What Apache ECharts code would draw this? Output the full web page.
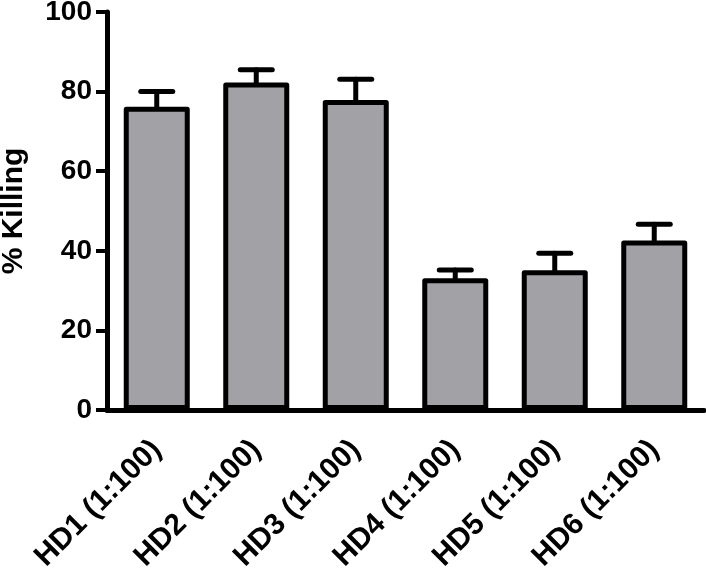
<!DOCTYPE html>
<html>
<head>
<meta charset="utf-8">
<script src="https://cdn.jsdelivr.net/npm/echarts@6/dist/echarts.min.js"></script>
<style>
  html, body { margin: 0; padding: 0; background: #fff; }
  #main { width: 706px; height: 568px; }
</style>
</head>
<body>
<div id="main"></div>
<script>
var categories = ['HD1 (1:100)', 'HD2 (1:100)', 'HD3 (1:100)', 'HD4 (1:100)', 'HD5 (1:100)', 'HD6 (1:100)'];
var killing = [76.2, 82.3, 77.9, 33.1, 35.1, 42.6];
var sem = [3.8, 3.2, 5.2, 2.1, 4.3, 4.1];
var yTicks = [0, 20, 40, 60, 80, 100];

var font = 'Arial, "Liberation Sans", Helvetica, sans-serif';

var chartDom = document.getElementById('main');
var myChart = echarts.init(chartDom);

// error bar data: [index, mean, mean + sem]
var errData = killing.map(function (v, i) {
  return [i, v, v + sem[i]];
});

var option = {
  animation: false,
  grid: { left: 107, right: 2, top: 12, bottom: 158, outerBoundsMode: 'none', containLabel: false },
  xAxis: {
    type: 'category',
    data: categories,
    axisLine: { lineStyle: { color: '#000', width: 5 } },
    axisTick: { alignWithLabel: true, length: 13, lineStyle: { color: '#000', width: 4 } },
    axisLabel: {
      rotate: 45,
      margin: 35,
      color: '#000',
      fontFamily: font,
      fontWeight: 'bold',
      fontSize: 30
    }
  },
  yAxis: {
    type: 'value',
    min: yTicks[0],
    max: yTicks[yTicks.length - 1],
    interval: 20,
    name: '% Killing',
    nameLocation: 'middle',
    nameGap: 78,
    nameTextStyle: { color: '#000', fontFamily: font, fontWeight: 'bold', fontSize: 30 },
    splitLine: { show: false },
    axisLine: { show: true, lineStyle: { color: '#000', width: 5 } },
    axisTick: { show: true, length: 11, lineStyle: { color: '#000', width: 4 } },
    axisLabel: {
      margin: 15,
      color: '#000',
      fontFamily: font,
      fontWeight: 'bold',
      fontSize: 28
    }
  },
  series: [
    {
      type: 'bar',
      data: killing,
      barWidth: 66,
      itemStyle: {
        color: '#a2a1a6',
        borderColor: '#000',
        borderWidth: 5,
        borderJoin: 'round'
      },
      z: 2
    },
    {
      type: 'custom',
      data: errData,
      z: 3,
      renderItem: function (params, api) {
        var idx = api.value(0);
        var lo = api.coord([idx, api.value(1)]);
        var hi = api.coord([idx, api.value(2)]);
        var half = 16;
        var style = { stroke: '#000', lineWidth: 5, lineCap: 'round' };
        return {
          type: 'group',
          children: [
            { type: 'line', shape: { x1: lo[0], y1: lo[1], x2: hi[0], y2: hi[1] }, style: style },
            { type: 'line', shape: { x1: hi[0] - half, y1: hi[1], x2: hi[0] + half, y2: hi[1] }, style: style }
          ]
        };
      }
    }
  ]
};

myChart.setOption(option);
</script>
</body>
</html>
